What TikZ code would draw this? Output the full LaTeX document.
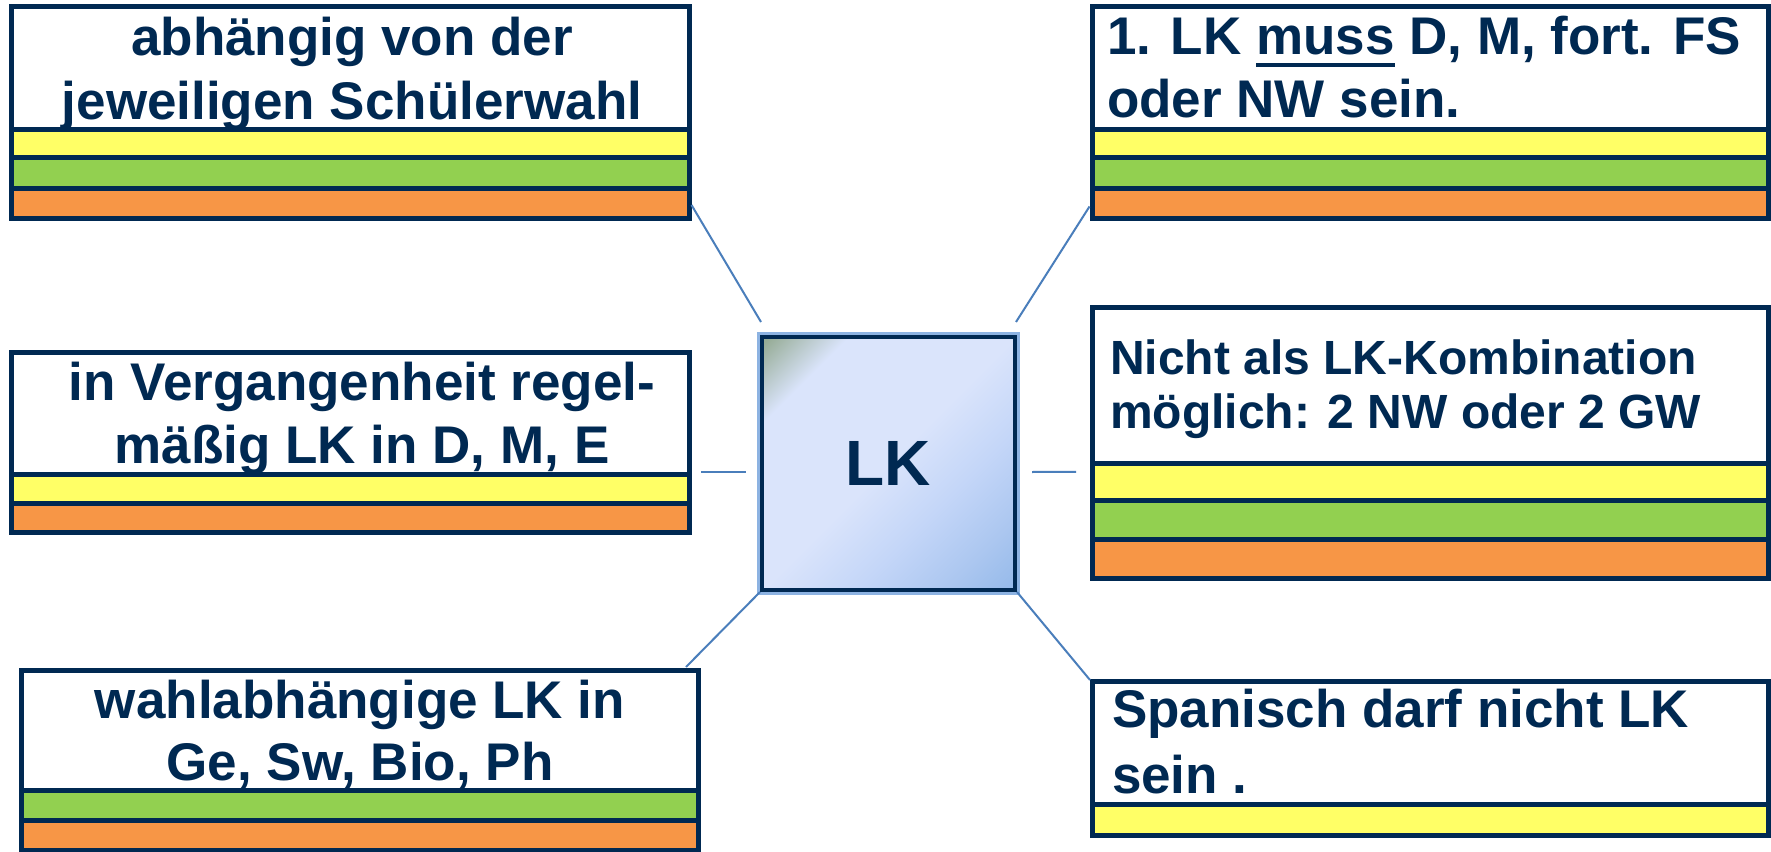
\documentclass[tikz,border=0pt]{standalone}
\usepackage{fontspec}
\setmainfont{Liberation Sans}
\usetikzlibrary{calc}
\definecolor{navy}{RGB}{0,41,82}
\definecolor{ylw}{RGB}{255,255,102}
\definecolor{grn}{RGB}{146,208,80}
\definecolor{org}{RGB}{247,150,70}
\definecolor{glow}{RGB}{141,179,226}
\definecolor{conn}{RGB}{74,126,187}
\definecolor{sA}{RGB}{150,172,150}
\definecolor{sB}{RGB}{218,228,251}
\definecolor{sC}{RGB}{196,214,248}
\definecolor{sE}{RGB}{172,199,240}
\definecolor{sD}{RGB}{146,184,233}
\pgfdeclarehorizontalshading{lkshade}{100bp}{color(0bp)=(sA); color(16bp)=(sA); color(27bp)=(sB); color(50bp)=(sB); color(63bp)=(sC); color(75bp)=(sE); color(86bp)=(sD); color(100bp)=(sD)}
\newcommand\bxf[2]{\fontsize{#1}{#2}\selectfont\bfseries}
\newsavebox\ulbox
\newcommand\ulword[1]{\sbox\ulbox{#1}\rlap{\rule[-11.75pt]{\wd\ulbox}{3.5pt}}\usebox\ulbox}
\begin{document}
\begin{tikzpicture}[x=1pt,y=-1pt,
  frame/.style={draw=navy, line width=5pt, inner sep=0pt, outer sep=0pt, rectangle},
  sepline/.style={draw=navy, line width=5pt},
  lbl/.style={text=navy, inner sep=0pt, outer sep=0pt, font=\bxf{53}{62}},
  lblm/.style={text=navy, inner sep=0pt, outer sep=0pt, font=\bxf{48}{54}},
  cn/.style={draw=conn, line width=2pt},
]
\useasboundingbox (0,0) rectangle (1771,851);
\fill[white] (0,0) rectangle (1771,851);

% top left box
\fill[ylw] (11,129) rectangle (689,157.5);
\fill[grn] (11,157.5) rectangle (689,188.5);
\fill[org] (11,188.5) rectangle (689,218.5);
\node[frame, minimum width=678pt, minimum height=211.5pt] (tl) at (350,112.75) {};
\draw[sepline] (11,129) -- (689,129) (11,157.5) -- (689,157.5) (11,188.5) -- (689,188.5);
\node[lbl, anchor=base] (tlA) at (352,56) {abhängig von der};
\node[lbl, anchor=base] (tlB) at (352,119) {jeweiligen Schülerwahl};

% top right box
\fill[ylw] (1092,129) rectangle (1768,157.5);
\fill[grn] (1092,157.5) rectangle (1768,188.5);
\fill[org] (1092,188.5) rectangle (1768,218.5);
\node[frame, minimum width=676pt, minimum height=211.5pt] (tr) at (1430,112.75) {};
\draw[sepline] (1092,129) -- (1768,129) (1092,157.5) -- (1768,157.5) (1092,188.5) -- (1768,188.5);
\node[lbl, anchor=base west] (trA) at (1107,55) {1. LK \ulword{muss} D, M, fort. FS};
\node[lbl, anchor=base west] (trB) at (1107,117) {oder NW sein.};

% middle left box
\fill[ylw] (11,474) rectangle (689,503);
\fill[org] (11,503) rectangle (689,532);
\node[frame, minimum width=678pt, minimum height=180pt] (ml) at (350,442) {};
\draw[sepline] (11,474) -- (689,474) (11,503) -- (689,503);
\node[lbl, anchor=base] (mlA) at (362,400) {in Vergangenheit regel-};
\node[lbl, anchor=base] (mlB) at (362,463) {mäßig LK in D, M, E};

% middle right box
\fill[ylw] (1092,463) rectangle (1768,500.5);
\fill[grn] (1092,500.5) rectangle (1768,539.5);
\fill[org] (1092,539.5) rectangle (1768,578);
\node[frame, minimum width=676pt, minimum height=270.5pt] (mr) at (1430,442.75) {};
\draw[sepline] (1092,463) -- (1768,463) (1092,500.5) -- (1768,500.5) (1092,539.5) -- (1768,539.5);
\node[lblm, anchor=base west] (mrA) at (1110,374) {Nicht als LK-Kombination};
\node[lblm, anchor=base west] (mrB) at (1110,428) {möglich: 2 NW oder 2 GW};

% bottom left box
\fill[grn] (21.5,790.5) rectangle (698,820.5);
\fill[org] (21.5,820.5) rectangle (698,850);
\node[frame, minimum width=676.5pt, minimum height=180pt] (bl) at (359.75,760) {};
\draw[sepline] (21.5,790.5) -- (698,790.5) (21.5,820.5) -- (698,820.5);
\node[lbl, anchor=base] (blA) at (360,718) {wahlabhängige LK in};
\node[lbl, anchor=base] (blB) at (360,780) {Ge, Sw, Bio, Ph};

% bottom right box
\fill[ylw] (1092,804) rectangle (1768,835);
\node[frame, minimum width=676pt, minimum height=154pt] (br) at (1430,758) {};
\draw[sepline] (1092,804) -- (1768,804);
\node[lbl, anchor=base west] (brA) at (1112,727) {Spanisch darf nicht LK};
\node[lbl, anchor=base west] (brB) at (1112,793) {sein .};

% centre
\node[shade, shading=lkshade, shading angle=-45, draw=glow, line width=6pt,
      minimum width=257pt, minimum height=257pt, inner sep=0pt, outer sep=0pt,
      text=navy, font=\bxf{64}{70}] (lk) at (888.5,463.5) {LK};
\draw[navy, line width=4pt] ($(lk.north west)+(2,2)$) rectangle ($(lk.south east)+(-2,-2)$);

% connectors
\draw[cn] ($(tl.south east)+(2.5,-13.5)$) -- ($(lk.north west)+(1,-13)$);
\draw[cn] ($(tr.south west)+(-2.5,-12)$) -- ($(lk.north east)+(-1,-13)$);
\draw[cn] ($(ml.east)+(12,30)$) -- ($(lk.west)+(-14,8.5)$);
\draw[cn] ($(lk.east)+(15,8.5)$) -- ($(mr.west)+(-16,29)$);
\draw[cn] (lk.south west) -- ($(bl.north east)+(-12,-3)$);
\draw[cn] (lk.south east) -- ($(br.north west)+(-2,-1)$);
\end{tikzpicture}
\end{document}
